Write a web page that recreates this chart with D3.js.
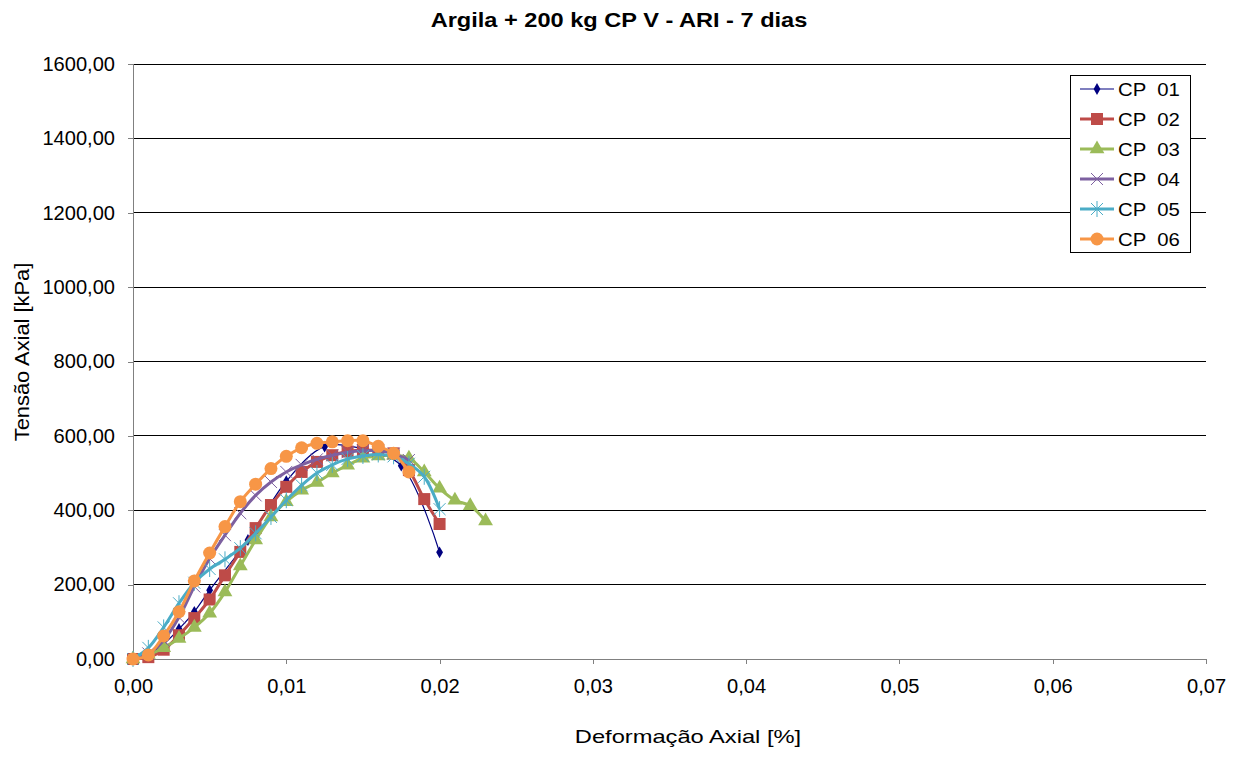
<!DOCTYPE html>
<html>
<head>
<meta charset="utf-8">
<script src="https://cdn.jsdelivr.net/npm/d3@7"></script>
<style>
body{margin:0;background:#fff;font-family:"Liberation Sans",Arial,sans-serif;}
</style>
</head>
<body>
<div class="chart"></div>
<script>
var width=1240,
    height=757,
    margin={top:64,right:34,bottom:98,left:133};

// strain [%] and stress [kPa] for each specimen
var seriesNames=['CP  01','CP  02','CP  03','CP  04','CP  05','CP  06'];
var seriesColors=['#000080','#BE4B48','#9BBB59','#7D60A0','#4BACC6','#F79646'];

var cp01X=[0,0.001,0.002,0.003,0.004,0.005,0.0075,0.010,0.0125,0.015,0.0175,0.020];
var cp01Y=[0,12,40,81,127,185,320,478,571,565,520,287];

var cp02X=[0,0.001,0.002,0.003,0.004,0.005,0.006,0.007,0.008,0.009,0.010,0.011,0.012,0.013,0.014,0.015,0.016,0.017,0.018,0.019,0.020];
var cp02Y=[0,5,25,64,110,160,225,288,352,414,463,503,530,548,558,562,560,553,508,430,363];

var cp03X=[0,0.001,0.002,0.003,0.004,0.005,0.006,0.007,0.008,0.009,0.010,0.011,0.012,0.013,0.014,0.015,0.016,0.017,0.018,0.019,0.020,0.021,0.022,0.023];
var cp03Y=[0,12,30,55,85,123,180,250,320,382,423,454,475,500,521,540,546,548,540,503,459,427,412,371];

var cp04X=[0,0.001,0.002,0.003,0.004,0.005,0.006,0.007,0.008,0.009,0.010,0.011,0.012,0.013,0.014,0.015,0.016,0.017,0.018];
var cp04Y=[0,15,50,112,195,270,333,392,440,476,503,522,537,548,556,560,560,552,535];

var cp05X=[0,0.001,0.002,0.003,0.004,0.005,0.006,0.007,0.008,0.009,0.010,0.011,0.012,0.013,0.014,0.015,0.016,0.017,0.018,0.019,0.020];
var cp05Y=[0,30,85,150,205,242,268,298,338,382,427,467,500,522,538,546,550,545,525,490,403];

var cp06X=[0,0.001,0.002,0.003,0.004,0.005,0.006,0.007,0.008,0.009,0.010,0.011,0.012,0.013,0.014,0.015,0.016,0.017,0.018];
var cp06Y=[0,11,62,127,210,285,356,423,470,512,545,568,580,584,587,587,572,553,503];

var xTicks=[0,0.01,0.02,0.03,0.04,0.05,0.06,0.07];
var yTicks=[0,200,400,600,800,1000,1200,1400,1600];

var allX=[cp01X,cp02X,cp03X,cp04X,cp05X,cp06X];
var allY=[cp01Y,cp02Y,cp03Y,cp04Y,cp05Y,cp06Y];
var series=seriesNames.map((name,i)=>({
    name:name,
    color:seriesColors[i],
    points:allX[i].map((x,j)=>({x:x,y:allY[i][j]}))
}));

var svg=d3.select('.chart')
    .append('svg')
        .attr('width',width)
        .attr('height',height);

var x=d3.scaleLinear().domain([0,0.07]).range([margin.left,width-margin.right]);
var y=d3.scaleLinear().domain([0,1600]).range([height-margin.bottom,margin.top]);

var fmt=d=>d3.format('.2f')(d).replace('.',',');

// stretch text a bit wider, the original picture is wider than its font
function stretch(sel,k){
    sel.each(function(){
        var w=this.getComputedTextLength();
        d3.select(this).attr('textLength',w*k).attr('lengthAdjust','spacingAndGlyphs');
    });
}

// gridlines
svg.append('g')
    .selectAll('line')
    .data(yTicks.slice(1))
    .enter()
    .append('line')
    .attr('x1',x(0)).attr('x2',x(0.07))
    .attr('y1',d=>y(d)).attr('y2',d=>y(d))
    .attr('stroke','#000')
    .attr('stroke-width',1)
    .attr('shape-rendering','crispEdges');

// axes
var yAxis=svg.append('g')
    .attr('transform',`translate(${x(0)},0)`)
    .call(d3.axisLeft(y).tickValues(yTicks).tickFormat(fmt).tickSize(5).tickPadding(13));
var xAxis=svg.append('g')
    .attr('transform',`translate(0,${y(0)})`)
    .call(d3.axisBottom(x).tickValues(xTicks).tickFormat(fmt).tickSize(5).tickPadding(15));

[xAxis,yAxis].forEach(a=>{
    a.select('.domain').attr('stroke','#808080').attr('shape-rendering','crispEdges');
    a.selectAll('.tick line').attr('stroke','#808080').attr('shape-rendering','crispEdges');
    a.selectAll('text')
        .attr('font-family','"Liberation Sans",Arial,sans-serif')
        .attr('font-size',19.5)
        .attr('fill','#000');
});
stretch(yAxis.selectAll('text'),1.03);
stretch(xAxis.selectAll('text'),1.03);

// titles
svg.append('text')
    .attr('x',619).attr('y',27)
    .attr('text-anchor','middle')
    .attr('font-size',20.5)
    .attr('font-weight','bold')
    .text('Argila + 200 kg CP V - ARI - 7 dias')
    .call(stretch,1.15);

svg.append('text')
    .attr('x',688).attr('y',743)
    .attr('text-anchor','middle')
    .attr('font-size',18.5)
    .text('Deformação Axial [%]')
    .call(stretch,1.28);

svg.append('text')
    .attr('transform','translate(28.5,352) rotate(-90)')
    .attr('text-anchor','middle')
    .attr('font-size',19.5)
    .text('Tensão Axial [kPa]')
    .call(stretch,1.12);

// marker drawing
function drawMarker(g,i,color){
    if(i===0){
        g.append('path').attr('d',d3.symbol(d3.symbolDiamond,40)).attr('fill',color);
    }else if(i===1){
        g.append('rect').attr('x',-6).attr('y',-6).attr('width',12).attr('height',12).attr('fill',color);
    }else if(i===2){
        g.append('path').attr('d',d3.symbol(d3.symbolTriangle,95)).attr('fill',color);
    }else if(i===3){
        g.append('path').attr('d','M-6,-6L6,6M-6,6L6,-6').attr('stroke',color).attr('stroke-width',1).attr('fill','none');
    }else if(i===4){
        g.append('path').attr('d','M-6,-6L6,6M-6,6L6,-6M0,-8L0,8').attr('stroke',color).attr('stroke-width',1).attr('fill','none');
    }else{
        g.append('circle').attr('r',6.5).attr('fill',color);
    }
}

var line=d3.line()
    .x(d=>x(d.x))
    .y(d=>y(d.y))
    .curve(d3.curveCatmullRom.alpha(0.5));

var plot=svg.append('g');
series.forEach((s,i)=>{
    plot.append('path')
        .datum(s.points)
        .attr('d',line)
        .attr('fill','none')
        .attr('stroke',s.color)
        .attr('stroke-width',i===0?1.2:3);
    plot.selectAll('.m'+i)
        .data(s.points)
        .enter()
        .append('g')
        .attr('transform',d=>`translate(${x(d.x)},${y(d.y)})`)
        .each(function(){drawMarker(d3.select(this),i,s.color);});
});

// legend
var legend=svg.append('g').attr('transform','translate(1070,75)');
legend.append('rect')
    .attr('width',120).attr('height',177)
    .attr('fill','#fff').attr('stroke','#000').attr('stroke-width',1)
    .attr('shape-rendering','crispEdges');
series.forEach((s,i)=>{
    var ly=14+i*30;
    legend.append('line')
        .attr('x1',10).attr('x2',44).attr('y1',ly).attr('y2',ly)
        .attr('stroke',s.color).attr('stroke-width',i===0?1.2:3);
    var mg=legend.append('g').attr('transform',`translate(27,${ly})`);
    drawMarker(mg,i,s.color);
    legend.append('text')
        .attr('x',48).attr('y',ly+6.5)
        .attr('font-size',18.5)
        .attr('xml:space','preserve')
        .style('white-space','pre')
        .text(s.name)
        .call(stretch,1.1);
});
</script>
</body>
</html>
